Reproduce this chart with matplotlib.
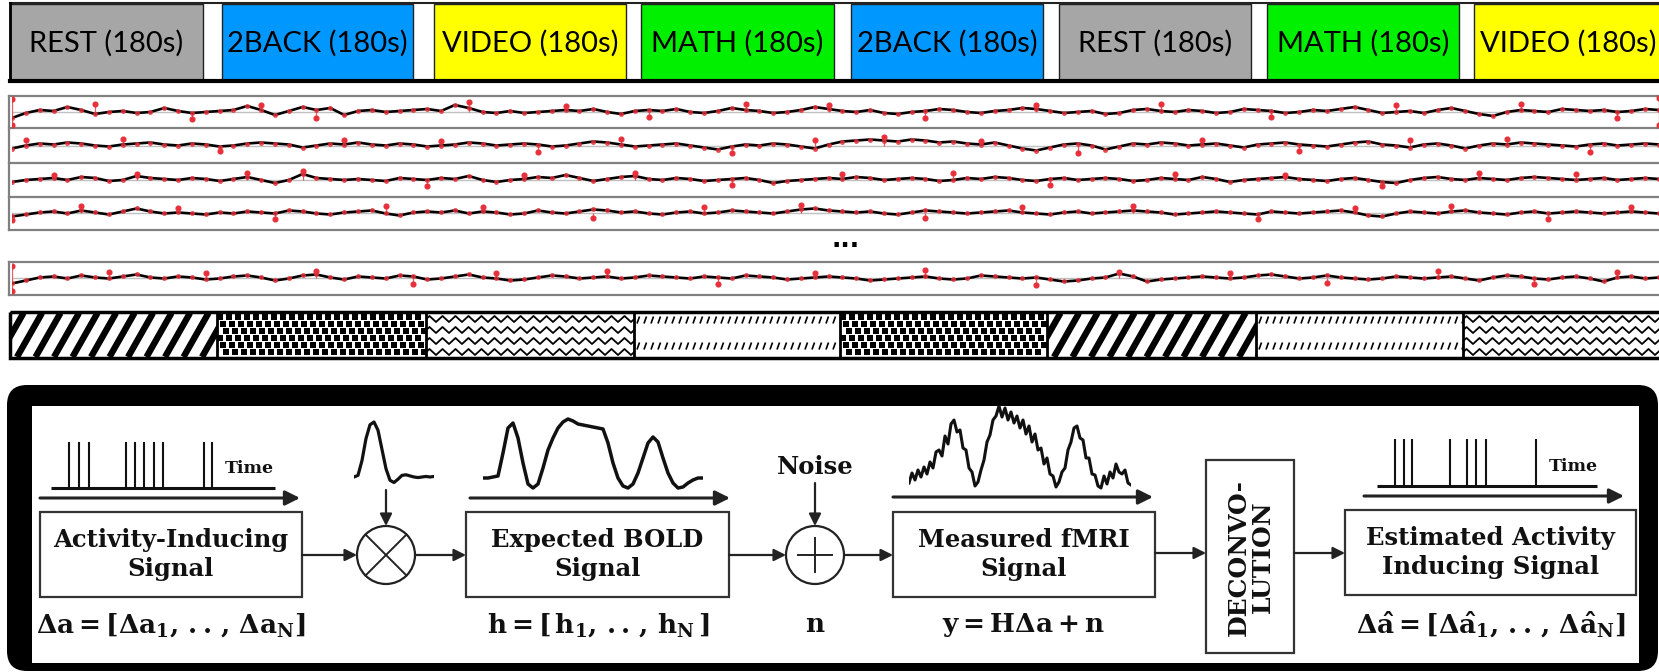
import matplotlib
matplotlib.use("Agg")
import matplotlib.pyplot as plt
from matplotlib.patches import Rectangle, Circle, FancyBboxPatch
from matplotlib.collections import LineCollection
import numpy as np

plt.rcParams['mathtext.fontset'] = 'dejavuserif'

W, H = 1659, 672

# ---- data ----
tasks = ['REST', '2BACK', 'VIDEO', 'MATH', '2BACK', 'REST', 'MATH', 'VIDEO']
durations = [180, 180, 180, 180, 180, 180, 180, 180]
task_colors = {'REST': '#a6a6a6', '2BACK': '#0098ff', 'VIDEO': '#ffff00', 'MATH': '#00f000'}
task_pattern = {'REST': 'stripe', '2BACK': 'dots', 'VIDEO': 'zigzag', 'MATH': 'slash'}

# time series shown in the strips (deviation from baseline, px-like units)
strip1 = [-6, -1, 2, 1, 5, 2, -2, 0, 1, -1, 0, 4, 1, -1, 0, 1, 2, 6, 2, -3, 1, 5, 2, 4, -3, 1, 2, 0, 1, 2,
          3, 1, 7, 4, 0, -1, 1, -1, 0, 1, 2, 1, 3, 0, -2, 1, 2, 1, 3, 0, -1, 1, 4, 2, 1, -1, 0, 2, 5, 3,
          1, 0, 2, -1, -2, 0, 1, 3, 2, 0, -1, 1, 2, 4, 3, 1, -1, 0, 1, -2, -1, 2, 3, 1, 0, 2, 1, -1, 0, 3,
          2, 1, -1, 0, 2, 1, 3, 5, 2, -1, 0, 1, -1, 2, 4, 1, -2, -4, 0, 2, 1, 0, 3, 2, 1, 2, 0, 1, 3, 2]
strip2 = [-3, 0, 2, 1, 3, 2, 0, -1, 1, 2, 3, 1, 0, 2, 1, -1, 0, 2, 3, 2, 1, -2, 0, 2, 1, 3, 1, 0, 2, 1,
          -1, 0, 1, 3, 2, 0, 1, 2, 1, -1, 0, 2, 4, 3, 1, -1, 0, 1, 2, 0, -2, -4, -1, 1, 0, 2, 1, -1, -3, 1,
          4, 5, 6, 5, 4, 6, 5, 3, 4, 2, 1, 3, 0, -3, -5, -2, 1, 2, 0, -4, -1, 2, 1, 3, 2, 0, 1, 2, 0, -2,
          1, 2, 3, 1, 0, -1, 1, 3, 4, 1, 0, -2, 1, 2, 0, -3, 0, 2, 1, 3, 2, 1, 0, -1, 1, 2, 0, 1, 2, 1]
strip3 = [-2, 0, 1, 2, 0, 3, 2, -1, 0, 4, 2, 1, 0, 2, 1, -1, 1, 3, 0, -3, 0, 6, 2, 1, 0, 1, 0, -1, 2, 1,
          0, 2, 1, 4, 0, -2, 0, 1, 3, 2, 5, 2, -1, 1, 3, 4, 1, 0, 2, 1, -1, 0, 1, 2, 0, -3, -1, 0, 1, 2,
          1, 3, 2, 0, 1, 2, 1, -1, 0, 2, 1, 3, 2, 0, -1, 1, 2, 0, 1, 2, 1, -1, 0, 2, 1, 0, 3, 1, -2, 0,
          1, 2, 3, 1, 0, -1, 1, 2, 0, -2, -3, 0, 2, 3, 1, 0, 2, 1, 0, 2, 3, 2, 1, 0, 1, 2, 0, 1, 2, 1]
strip4 = [-3, -1, 1, 2, 0, 3, 1, -1, 2, 5, 2, 0, 1, 0, -1, 1, 0, 2, 1, 0, 3, 2, 0, -1, 1, 2, 3, 0, -2, 1,
          2, 1, 3, 0, 2, 1, -1, 0, 3, 1, 0, 2, 4, 3, 1, 2, 0, -1, 1, 2, 0, 1, 3, 2, 1, 0, 2, 4, 5, 3,
          2, 1, 2, 0, -1, 1, 3, 2, 1, 0, 1, 2, 3, 1, 0, -1, 1, 2, 0, 1, 2, 3, 2, 1, -1, 0, 1, 2, 1, 0,
          -1, 2, 1, 0, 1, 2, 3, 1, -2, -3, 0, 2, 1, 0, 2, 3, 1, 0, -1, 1, 2, 0, 1, 2, 1, 0, 1, 2, 1, 0]
strip5 = [-5, -2, 1, 2, 0, 3, 1, 0, 2, 4, 1, 0, 2, 1, -1, 0, 2, 3, 1, -2, 0, 3, 4, 1, -1, 2, 1, 0, 3, 2,
          -1, 0, 2, 4, 1, 0, -2, -1, 1, 3, 2, 0, 1, 2, 0, 1, 3, 2, 1, 0, 2, 1, 0, 3, 2, 1, -1, 0, 1, 2,
          1, 0, -2, -1, 0, 1, 2, 0, -1, 0, 3, 2, 1, 0, 1, -1, -3, -2, 0, 1, 5, 2, -3, -1, 0, 1, 2, 1, 0, 1,
          3, 4, 2, 0, 1, 3, 1, 0, -1, 0, 2, 1, 0, 1, 2, 0, -2, 1, 3, 2, 0, -1, 1, 2, 0, -3, 1, 2, 0, 1]
strips = [strip1, strip2, strip3, strip4, strip5]

# red spikes (sample index, amplitude)
spike_idx = [
    [0, 0, 6, 13, 18, 22, 33, 40, 46, 53, 59, 66, 74, 83, 91, 100, 109, 116, 119, 119],
    [1, 8, 15, 24, 31, 38, 44, 52, 58, 63, 70, 77, 86, 93, 101, 108, 114],
    [3, 9, 17, 21, 30, 37, 45, 52, 60, 68, 75, 84, 92, 99, 106, 113],
    [0, 5, 12, 19, 27, 34, 42, 50, 57, 66, 73, 81, 90, 97, 104, 111, 117],
    [0, 0, 7, 14, 22, 29, 35, 43, 51, 58, 66, 74, 80, 88, 95, 103, 110, 116],
]
spike_val = [
    [13, -13, 8, -7, 7, -6, 10, 6, -5, 8, 7, -6, 7, 8, -5, 7, 8, -6, 14, -13],
    [6, 7, -5, 6, 5, -6, 7, -7, 6, 9, 5, -7, 6, -5, 6, 7, -6],
    [5, 6, 7, 9, -6, 5, 7, -5, 6, 7, -5, 6, 5, -6, 7, 6],
    [-7, 7, 5, -6, 7, 6, -5, 6, 8, -5, 6, 7, -6, 5, 7, -6, 6],
    [12, -13, 6, 5, 7, -6, 5, 7, -6, 5, 8, -7, 6, 5, -5, 7, -6, 6],
]

# diagram: activity-inducing events and estimated events (time units)
events_true = [3.6, 5.6, 7.6, 15.1, 16.9, 18.7, 20.7, 22.5, 30.7, 32.3]
events_est = [3.7, 5.5, 7.2, 14.9, 18.4, 20.3, 22.3, 32.5]
# haemodynamic response (normalised)
hrf = [0, 0.03, 0.3, 0.7, 0.95, 1.0, 0.85, 0.5, 0.15, -0.06, -0.1, -0.04, 0.03, 0.04, 0.02,
       0.0, -0.01, 0.0, 0.01, 0.0, 0.01]
# expected BOLD signal
bold = [0, 0, 1, 2, 25, 50, 55, 40, 15, -6, -10, -6, 10, 28, 40, 50, 56, 59, 57, 54, 53, 52, 51,
        50, 49, 35, 15, 0, -8, -10, -6, 5, 20, 35, 41, 36, 20, 5, -5, -10, -9, -5, -2, 0, 0]
# measured (noisy) fMRI signal
measured = [-3, 7, 0, 10, 3, 13, 6, 18, 12, 28, 30, 24, 44, 36, 56, 60, 48, 50, 32, 30, 12, 8, -6, -2,
            10, 20, 38, 45, 60, 64, 74, 63, 72, 60, 68, 57, 64, 52, 60, 46, 54, 38, 46, 30, 32, 16,
            22, 6, 4, -7, -2, 8, 12, 30, 38, 52, 54, 42, 40, 22, 22, 6, 5, -6, -8, 4, -4, 8, 2, 16,
            8, 6, 10, -3, -5]

# ---- figure ----
fig = plt.figure(figsize=(W / 100, H / 100), dpi=100)
base = fig.add_axes([0, 0, 1, 1])
base.set_xlim(0, W)
base.set_ylim(H, 0)
base.axis('off')


def px_axes(x0, y0, x1, y1):
    ax = fig.add_axes([x0 / W, 1 - y1 / H, (x1 - x0) / W, (y1 - y0) / H])
    ax.axis('off')
    return ax


# task blocks
block_left = [10, 222, 434, 641, 851, 1059, 1267, 1474]
block_right = [203, 413, 626, 834, 1043, 1251, 1459, 1663]
base.bar(block_left, 76, width=np.subtract(block_right, block_left), bottom=4, align='edge',
         color=[task_colors[t] for t in tasks], edgecolor='#222222', linewidth=1)
for t, d, l, r in zip(tasks, durations, block_left, block_right):
    base.text((l + r) / 2, 43, f'{t} ({d}s)', ha='center', va='center', fontsize=21, family='Lato')
base.plot([10, W], [3, 3], color='#222222', lw=1.5)
base.plot([10, W], [81, 81], color='black', lw=3)
base.plot([10, 10], [3, 81], color='black', lw=2)

# signal strips
red = '#e8303a'
rows = [(96, 128), (128, 163), (163, 197), (197, 230), (262, 295)]
for y in [96, 128, 163, 197, 230, 262, 295]:
    base.plot([9, W], [y, y], color='#808080', lw=1.6)
base.plot([9, 9], [96, 230], color='#808080', lw=1.6)
base.plot([9, 9], [262, 295], color='#808080', lw=1.6)
for (a, b), sig, si, sv in zip(rows, strips, spike_idx, spike_val):
    c = (a + b) / 2
    ax = px_axes(12, c - 17, W, c + 17)
    x = np.arange(len(sig))
    ax.set_xlim(0, len(sig) - 1)
    ax.set_ylim(-17, 17)
    ax.axhline(0, color='#c0c0c0', lw=1)
    ax.vlines(si, 0, sv, color=red, lw=0.9, alpha=0.8)
    ax.plot(x, sig, color='black', lw=1.9, zorder=3)
    ax.plot(x, sig, 'o', color=red, ms=2.6, alpha=0.75, zorder=4)
    ax.plot(si, sv, 'o', color=red, ms=3.4, zorder=4)
base.text(846, 240, '...', ha='center', va='center', fontsize=18, fontweight='bold')

# pattern bar
pat_left = [10, 217, 426, 634, 840, 1047, 1256, 1463]
pat_right = pat_left[1:] + [W + 3]
ptop, pbot = 313, 357
for t, l, r in zip(tasks, pat_left, pat_right):
    clip = Rectangle((l, ptop), r - l, pbot - ptop, fc='none', ec='none')
    base.add_patch(clip)
    kind = task_pattern[t]
    if kind == 'stripe':
        segs = [[(x, pbot), (x + 25, ptop)] for x in np.arange(l - 30, r + 10, 18.5)]
        lc = LineCollection(segs, colors='black', linewidths=4.6, capstyle='butt')
        base.add_collection(lc)
        lc.set_clip_path(clip)
    elif kind == 'dots':
        xs, ys = [], []
        for j, yy in enumerate(np.arange(ptop + 3.5, pbot, 7)):
            off = (j * 3) % 9
            for xx in np.arange(l + 3 + off, r, 9):
                xs.append(xx)
                ys.append(yy)
        sc = base.scatter(xs, ys, marker='s', s=14, color='black', linewidths=0)
        sc.set_clip_path(clip)
    elif kind == 'zigzag':
        for yc in [ptop + 6, ptop + 17, ptop + 28, ptop + 39]:
            xs = np.arange(l - 3, r + 7, 6.5)
            ys = yc + 3 * (-1) ** np.arange(len(xs))
            ln, = base.plot(xs, ys, color='black', lw=1.3)
            ln.set_clip_path(clip)
    else:
        segs = []
        for yc in [ptop + 7, ptop + 33]:
            segs += [[(x, yc + 3.5), (x + 2.5, yc - 3.5)] for x in np.arange(l + 3, r, 7)]
        lc = LineCollection(segs, colors='black', linewidths=1.2)
        base.add_collection(lc)
        lc.set_clip_path(clip)
base.add_patch(Rectangle((10, ptop - 1), W, pbot - ptop + 2, fc='none', ec='black', lw=2.5))
for l in pat_left[1:]:
    base.plot([l, l], [ptop, pbot], color='black', lw=2)

# ---- block diagram ----
base.add_patch(FancyBboxPatch((7, 385), W - 8, 286, boxstyle='round,pad=0,rounding_size=20',
                              fc='black', ec='none'))
base.add_patch(Rectangle((32, 406), 1607, 257, fc='white', ec='none'))

serif = dict(family='DejaVu Serif', fontweight='bold', color='#111111')
boxes = [(40, 512, 302, 597, 'Activity-Inducing\nSignal'),
         (466, 512, 729, 597, 'Expected BOLD\nSignal'),
         (893, 512, 1155, 597, 'Measured fMRI\nSignal'),
         (1345, 510, 1636, 595, 'Estimated Activity\nInducing Signal')]
for x0, y0, x1, y1, label in boxes:
    base.add_patch(Rectangle((x0, y0), x1 - x0, y1 - y0, fc='none', ec='#333333', lw=1.6))
    base.text((x0 + x1) / 2, (y0 + y1) / 2, label, ha='center', va='center', fontsize=17.5,
              linespacing=1.3, **serif)
base.add_patch(Rectangle((1206, 460), 88, 193, fc='none', ec='#333333', lw=1.6))
base.text(1251, 557, 'DECONVO-\nLUTION', rotation=90, ha='center', va='center', fontsize=18,
          multialignment='center', linespacing=1.0, **serif)

formulas = [(171, r'$\mathbf{\Delta a = [\Delta a_1,\,..\,,\,\Delta a_N]}$'),
            (598, r'$\mathbf{h = [\,h_1,\,..\,,\,h_N\,]}$'),
            (815, r'$\mathbf{n}$'),
            (1023, r'$\mathbf{y = H\Delta a + n}$'),
            (1491, r'$\mathbf{\Delta \hat{a} = [\Delta \hat{a}_1,\,..\,,\,\Delta \hat{a}_N]}$')]
for x, s in formulas:
    base.text(x, 625, s, ha='center', va='center', fontsize=19, color='#111111')
base.text(815, 467, 'Noise', ha='center', va='center', fontsize=17.5, **serif)

# operators
for cx, kind in [(386, 'x'), (815, '+')]:
    r = 29
    base.add_patch(Circle((cx, 555), r, fc='white', ec='#222222', lw=1.6))
    if kind == 'x':
        d = r * 0.707
        base.plot([cx - d, cx + d], [555 - d, 555 + d], color='#222222', lw=1.4)
        base.plot([cx - d, cx + d], [555 + d, 555 - d], color='#222222', lw=1.4)
    else:
        d = r * 0.6
        base.plot([cx - d, cx + d], [555, 555], color='#222222', lw=1.4)
        base.plot([cx, cx], [555 - d, 555 + d], color='#222222', lw=1.4)


def arrow(x0, y0, x1, y1, lw=1.6, ms=18):
    base.annotate('', xy=(x1, y1), xytext=(x0, y0),
                  arrowprops=dict(arrowstyle='-|>', color='#222222', lw=lw, mutation_scale=ms,
                                  shrinkA=0, shrinkB=0))


for x0, x1, y in [(40, 300, 498), (470, 730, 498), (893, 1153, 497), (1364, 1624, 496)]:
    arrow(x0, y, x1, y, lw=2.2, ms=22)
arrow(302, 555, 357, 555)
arrow(415, 555, 466, 555)
arrow(729, 555, 786, 555)
arrow(844, 555, 893, 555)
arrow(1155, 553, 1206, 553)
arrow(1294, 553, 1345, 553)
arrow(386, 490, 386, 526)
arrow(815, 483, 815, 526)

# event trains
for (x0, x1, y0, y1), ev in [((51, 275, 442, 488), events_true), ((1377, 1597, 439, 486), events_est)]:
    ax = px_axes(x0, y0, x1, y1)
    ax.set_xlim(0, 45)
    ax.set_ylim(0, 1)
    ax.vlines(ev, 0, 1, color='#111111', lw=1.5, clip_on=False)
    ax.hlines(0, 0, 45, color='#111111', lw=2.2, clip_on=False)
base.text(249, 477, 'Time', ha='center', va='bottom', fontsize=12.5, **serif)
base.text(1573, 475, 'Time', ha='center', va='bottom', fontsize=12.5, **serif)

# HRF
ax = px_axes(354, 415, 434, 490)
ax.set_xlim(0, len(hrf) - 1)
ax.set_ylim(-13 / 55, 62 / 55)
ax.plot(np.arange(len(hrf)), hrf, color='#111111', lw=2.3, solid_joinstyle='round')

# expected BOLD
ax = px_axes(483, 410, 703, 495)
ax.set_xlim(0, len(bold) - 1)
ax.set_ylim(-17, 68)
ax.plot(np.arange(len(bold)), bold, color='#111111', lw=2.5, solid_joinstyle='round')

# measured fMRI
ax = px_axes(909, 400, 1131, 495)
ax.set_xlim(0, len(measured) - 1)
ax.set_ylim(-15, 80)
ax.plot(np.arange(len(measured)), measured, color='#111111', lw=2.2)

fig.savefig('out.png', dpi=100)
